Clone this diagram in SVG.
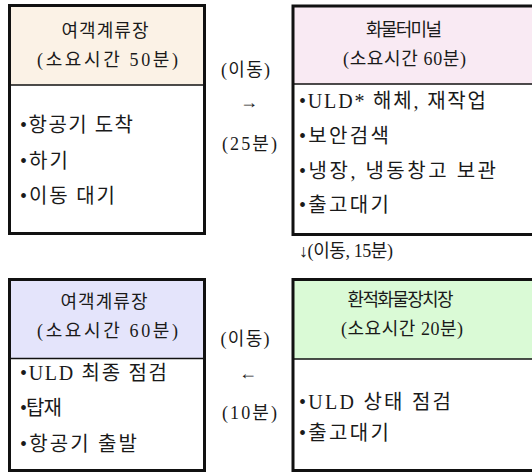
<svg xmlns="http://www.w3.org/2000/svg" width="532" height="474" viewBox="0 0 532 474">
<style>
text{font-family:"Liberation Serif","Noto Sans CJK KR",serif;font-size:18px;fill:#1a1a1a}
.b{font-size:20px}
.c{text-anchor:middle}
.box{fill:none;stroke:#111;stroke-width:3}
.div{stroke:#111;stroke-width:1.5}
</style>
<rect width="532" height="474" fill="#fff"/>
<g id="node-a">
<rect x="9.5" y="5.5" width="195" height="79.5" fill="#FBF2E6"/>
<line class="div" x1="9.5" y1="85" x2="204.5" y2="85"/>
<rect class="box" x="9.5" y="5.5" width="195" height="228"/>
<text class="c" x="105" y="37" textLength="87">여객계류장</text>
<text class="c" x="107.5" y="66" textLength="141">(소요시간 50분)</text>
<text class="b" x="20" y="132" textLength="113">•항공기 도착</text>
<text class="b" x="20" y="168" textLength="48">•하기</text>
<text class="b" x="20" y="203" textLength="95">•이동 대기</text>
</g>
<g id="node-b">
<rect x="293" y="6" width="243" height="78" fill="#F9EAF3"/>
<line class="div" x1="293" y1="84" x2="536" y2="84"/>
<rect class="box" x="293" y="6" width="243" height="228.5"/>
<text class="c" x="404" y="36" textLength="76">화물터미널</text>
<text class="c" x="404.5" y="65" textLength="123">(소요시간 60분)</text>
<text class="b" x="299" y="108" textLength="187">•ULD* 해체, 재작업</text>
<text class="b" x="299" y="143" textLength="90">•보안검색</text>
<text class="b" x="299" y="178" textLength="197">•냉장, 냉동창고 보관</text>
<text class="b" x="299" y="212" textLength="90">•출고대기</text>
</g>
<g id="node-c">
<rect x="9.5" y="279.5" width="195" height="79" fill="#E4E4FB"/>
<line class="div" x1="9.5" y1="358.5" x2="204.5" y2="358.5"/>
<rect class="box" x="9.5" y="279.5" width="195" height="191"/>
<text class="c" x="104" y="308" textLength="87">여객계류장</text>
<text class="c" x="107.5" y="337" textLength="141">(소요시간 60분)</text>
<text class="b" x="20" y="380" textLength="147">•ULD 최종 점검</text>
<text class="b" x="20" y="415" textLength="42">•탑재</text>
<text class="b" x="20" y="451" textLength="117">•항공기 출발</text>
</g>
<g id="node-d">
<rect x="293" y="279.5" width="243" height="79.5" fill="#DAFAD6"/>
<line class="div" x1="293" y1="359" x2="536" y2="359"/>
<rect class="box" x="293" y="279.5" width="243" height="191"/>
<text class="c" x="400.5" y="306" textLength="106">환적화물장치장</text>
<text class="c" x="402" y="335" textLength="122">(소요시간 20분)</text>
<text class="b" x="299" y="409" textLength="152">•ULD 상태 점검</text>
<text class="b" x="299" y="440" textLength="90">•출고대기</text>
</g>
<g id="connectors">
<text class="c" x="245.5" y="76" textLength="49">(이동)</text>
<text class="c" x="249" y="108" font-size="14">→</text>
<text class="c" x="249.5" y="150" textLength="55">(25분)</text>
<text x="299" y="257" textLength="94">↓(이동, 15분)</text>
<text class="c" x="245" y="345" textLength="49">(이동)</text>
<text class="c" x="248" y="379" font-size="14">←</text>
<text class="c" x="249.5" y="419" textLength="55">(10분)</text>
</g>
</svg>
